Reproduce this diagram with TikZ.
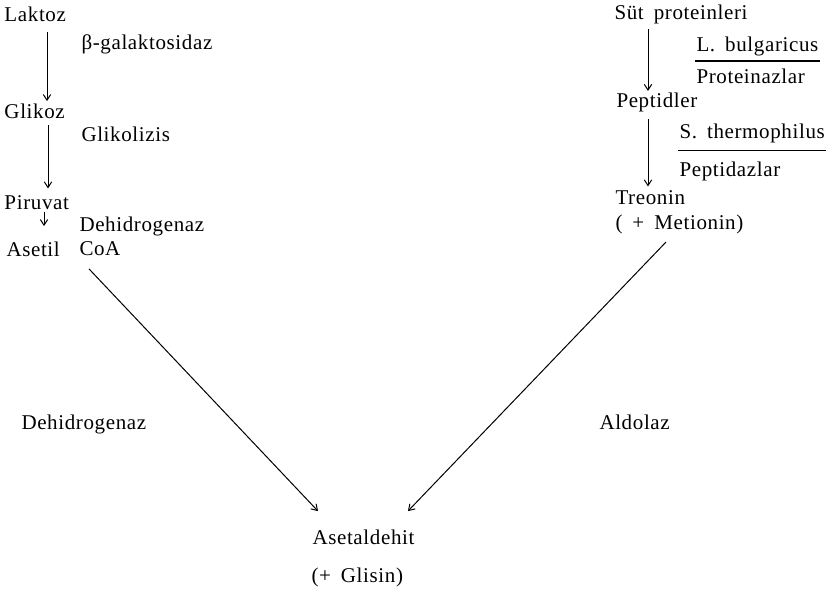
\documentclass[tikz,border=0pt]{standalone}
\usepackage{fontspec}
\setmainfont{Liberation Serif}[LetterSpace=3,WordSpace=1.7]
\usetikzlibrary{arrows.meta}

\begin{document}
\begin{tikzpicture}[x=1pt,y=-1pt,line width=1pt,>={Straight Barb[length=2mm,width=2.6mm]},
  every node/.style={anchor=west,inner sep=1pt,font=\fontsize{21}{24}\selectfont}]
  \useasboundingbox (0,0) rectangle (837,594);
  % laktoz yolu
  \node (laktoz) at (3,14) {Laktoz};
  \node (galak) at (80,44) {β-galaktosidaz};
  \node (glikoz) at (3,111) {Glikoz};
  \node (glikol) at (80,134) {Glikolizis};
  \node (piruvat) at (3,203) {Piruvat};
  \node (dehid) at (78,226) {Dehidrogenaz};
  \node (asetil) at (5,249) {Asetil};
  \node (coa) at (78,249) {CoA};
  \draw[->,shorten <=9pt,shorten >=1pt] (laktoz.south -| 47,0) -- (glikoz.north -| 47,0);
  \draw[->,shorten <=5pt,shorten >=6pt] (glikoz.south -| 48,0) -- (piruvat.north -| 48,0);
  \draw[->,shorten >=14pt] (piruvat.south -| 44,0) -- (asetil.north -| 44,0);
  % protein yolu
  \node (sut) at (613,14) {Süt proteinleri};
  \node (bulg) at (695,46) {L. bulgaricus};
  \node (protz) at (695,76) {Proteinazlar};
  \node (peptidler) at (615,102) {Peptidler};
  \node (thermo) at (678,133) {S. thermophilus};
  \node (peptz) at (678,171) {Peptidazlar};
  \node (treonin) at (614,198) {Treonin};
  \node (metionin) at (614,224) {( + Metionin)};
  \draw (bulg.west |- 0,61) -- (bulg.east |- 0,61);
  \draw (thermo.west |- 0,150) -- (thermo.east |- 0,150);
  \draw[->,shorten <=4pt] (sut.south -| 648,0) -- (peptidler.north -| 648,0);
  \draw[->,shorten <=6pt,shorten >=3pt] (peptidler.south -| 648,0) -- (treonin.north -| 648,0);
  % asetaldehit
  \node (dehid2) at (20,424) {Dehidrogenaz};
  \node (aldolaz) at (598,422) {Aldolaz};
  \node (asetaldehit) at (311,537) {Asetaldehit};
  \node (glisin) at (310,577) {(+ Glisin)};
  \draw[->] ([xshift=84pt,yshift=-11pt]asetil.south west) -- ([xshift=7pt,yshift=17pt]asetaldehit.north west);
  \draw[->] ([xshift=52pt,yshift=-7pt]metionin.south west) -- ([xshift=-8pt,yshift=17pt]asetaldehit.north east);
\end{tikzpicture}
\end{document}
